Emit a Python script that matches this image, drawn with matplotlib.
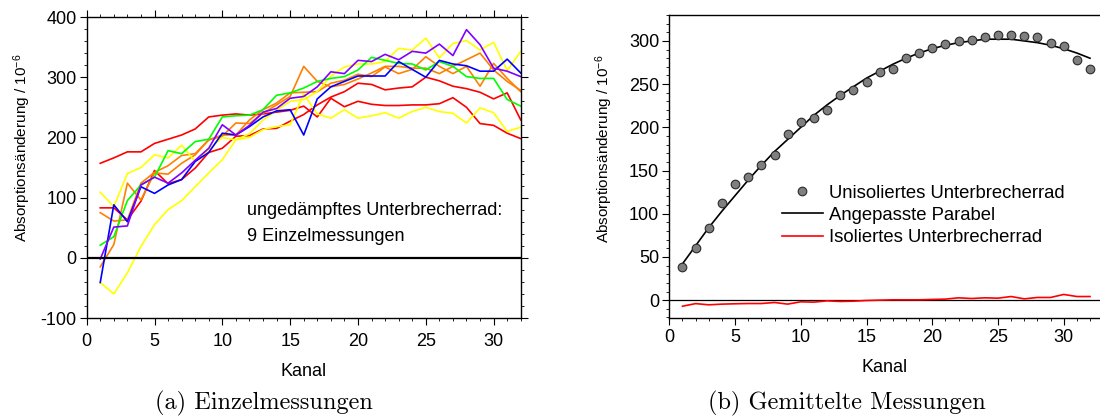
"""Absorptionsänderung je Kanal: Einzelmessungen (a) und Mittelwerte (b)."""

import matplotlib

matplotlib.use("Agg")
import matplotlib.pyplot as plt
from matplotlib.ticker import MultipleLocator

KANAL = list(range(1, 33))

# (a) 9 Einzelmessungen, ungedämpftes Unterbrecherrad
ROT_1 = [157, 166, 176, 176, 190, 197, 204, 214, 234, 237, 239, 237, 239, 242, 245, 252,
         234, 265, 251, 260, 255, 253, 253, 254, 254, 256, 266, 250, 223, 220, 207, 198]
ROT_2 = [83, 83, 63, 94, 145, 123, 130, 149, 175, 182, 202, 203, 214, 215, 227, 238,
         254, 267, 276, 290, 288, 279, 282, 284, 300, 294, 285, 281, 275, 264, 274, 229]
ORANGE_1 = [75, 61, 63, 124, 142, 153, 170, 173, 196, 202, 224, 223, 240, 254, 268, 318,
            293, 284, 288, 297, 307, 318, 318, 315, 315, 306, 318, 329, 340, 312, 293, 278]
ORANGE_2 = [-15, 22, 124, 96, 141, 139, 157, 171, 196, 204, 204, 229, 246, 257, 274, 275,
            276, 290, 295, 305, 301, 317, 306, 313, 334, 318, 306, 318, 285, 323, 298, 276]
GELB_1 = [109, 85, 140, 150, 171, 166, 187, 160, 180, 200, 196, 200, 213, 218, 221, 272,
          239, 232, 246, 232, 236, 241, 232, 243, 250, 243, 240, 224, 249, 241, 210, 217]
GELB_2 = [-41, -60, -25, 19, 55, 80, 95, 118, 141, 163, 196, 206, 229, 245, 260, 263,
          276, 302, 317, 322, 322, 326, 348, 345, 365, 332, 356, 361, 345, 358, 311, 343]
GRUEN = [21, 35, 95, 121, 134, 178, 173, 193, 197, 234, 236, 237, 246, 270, 274, 282,
         293, 298, 301, 312, 333, 328, 323, 322, 312, 326, 318, 301, 298, 298, 263, 252]
BLAU = [-41, 88, 60, 118, 107, 121, 130, 160, 175, 207, 204, 218, 234, 244, 246, 204,
        264, 284, 293, 302, 302, 302, 326, 313, 300, 328, 322, 319, 310, 310, 330, 307]
LILA = [-2, 51, 53, 121, 134, 124, 141, 162, 182, 221, 204, 220, 242, 248, 265, 268,
        284, 309, 306, 328, 326, 338, 329, 343, 340, 355, 336, 379, 354, 315, 310, 301]

EINZEL = [
    (ROT_1, "#ff0000"), (ROT_2, "#ff0000"),
    (ORANGE_1, "#ff8000"), (ORANGE_2, "#ff8000"),
    (GELB_1, "#ffff00"), (GELB_2, "#ffff00"),
    (GRUEN, "#00ff00"), (BLAU, "#0000ff"), (LILA, "#8000ff"),
]

# (b) gemittelt
UNISOLIERT = [38, 60, 84, 113, 135, 142, 156, 168, 192, 206, 211, 220, 238, 243, 253, 264,
              268, 280, 286, 292, 297, 300, 301, 304, 307, 307, 306, 304, 298, 294, 278, 267]
PARABEL = [42, 63, 84, 103, 121, 139, 156, 172, 186, 200, 214, 226, 237, 247, 257, 265,
           273, 280, 286, 291, 295, 298, 300, 302, 302, 302, 300, 298, 295, 291, 286, 280]
ISOLIERT = [-7, -4, -5.4, -4.6, -4.2, -3.9, -3.9, -2.7, -4.6, -1.9, -2.3, -0.8, -1.5, -1.2,
            -0.4, 0, 0.4, 0.4, 0.4, 0.8, 1.2, 2.7, 1.9, 2.7, 2.3, 4.2, 1.5, 3.1, 3.1, 6.6,
            4.2, 4.2]

YLABEL = "Absorptionsänderung / 10$^{-6}$"

plt.rcParams.update({
    "font.family": ["Liberation Sans", "DejaVu Sans"],
    "font.size": 13,
    "axes.unicode_minus": False,
    "mathtext.fontset": "custom",
    "mathtext.rm": "Liberation Sans",
    "mathtext.it": "Liberation Sans",
    "axes.linewidth": 1.0,
    "xtick.direction": "out",
    "ytick.direction": "out",
    "xtick.major.size": 4.8,
    "ytick.major.size": 4.8,
    "xtick.minor.size": 2.4,
    "ytick.minor.size": 2.4,
    "xtick.major.pad": 2.5,
    "ytick.major.pad": 2.5,
})

fig = plt.figure(figsize=(11, 4.17), dpi=100)

# --- (a) Einzelmessungen
ax1 = fig.add_axes([0.0788, 0.2374, 0.3946, 0.7218])
for werte, farbe in EINZEL:
    ax1.plot(KANAL, werte, color=farbe, lw=1.2)
ax1.axhline(0, color="black", lw=1.6)
ax1.set_xlim(0, 32)
ax1.set_ylim(-100, 400)
ax1.xaxis.set_major_locator(MultipleLocator(5))
ax1.xaxis.set_minor_locator(MultipleLocator(1))
ax1.yaxis.set_major_locator(MultipleLocator(100))
ax1.yaxis.set_minor_locator(MultipleLocator(20))
ax1.tick_params(which="both", top=True, right=True, labeltop=False, labelright=False)
ax1.tick_params(axis="x", pad=6)
ax1.set_xlabel("Kanal", labelpad=9)
ax1.set_ylabel(YLABEL, fontsize=11)
ax1.yaxis.set_label_coords(-0.124, 0.565)
ax1.text(0.37, 0.357, "ungedämpftes Unterbrecherrad:", transform=ax1.transAxes,
         va="center", ha="left")
ax1.text(0.37, 0.27, "9 Einzelmessungen", transform=ax1.transAxes,
         va="center", ha="left")

# --- (b) Gemittelte Messungen
ax2 = fig.add_axes([0.6085, 0.2367, 0.3915, 0.7273])
ax2.axhline(0, color="black", lw=0.9)
ax2.plot(KANAL, UNISOLIERT, "o", ms=6.2, mfc="#7f7f7f", mec="#2a2a2a", mew=0.8,
         label="Unisoliertes Unterbrecherrad", zorder=3)
ax2.plot(KANAL, PARABEL, color="black", lw=1.2, label="Angepasste Parabel")
ax2.plot(KANAL, ISOLIERT, color="#ff0000", lw=1.2, label="Isoliertes Unterbrecherrad")
ax2.set_xlim(0, 32.76)
ax2.set_ylim(-21, 330)
ax2.xaxis.set_major_locator(MultipleLocator(5))
ax2.xaxis.set_minor_locator(MultipleLocator(1))
ax2.yaxis.set_major_locator(MultipleLocator(50))
ax2.yaxis.set_minor_locator(MultipleLocator(10))
ax2.spines["right"].set_visible(False)
ax2.tick_params(axis="x", pad=3)
ax2.set_xlabel("Kanal", labelpad=9)
ax2.set_ylabel(YLABEL, fontsize=11)
ax2.yaxis.set_label_coords(-0.126, 0.558)
ax2.legend(loc="upper left", bbox_to_anchor=(0.711, 0.557),
           bbox_transform=fig.transFigure, frameon=False, borderpad=0,
           borderaxespad=0, handlelength=2.2, handletextpad=0.35,
           labelspacing=0.28, fontsize=13.3)

# Unterschriften
fig.text(264 / 1100, 1 - 403 / 417, "(a) Einzelmessungen", family="cmr10",
         fontsize=17.5, ha="center", va="center")
fig.text(847 / 1100, 1 - 403 / 417, "(b) Gemittelte Messungen", family="cmr10",
         fontsize=17.5, ha="center", va="center")

fig.savefig("out.png", dpi=100)
plt.close(fig)
